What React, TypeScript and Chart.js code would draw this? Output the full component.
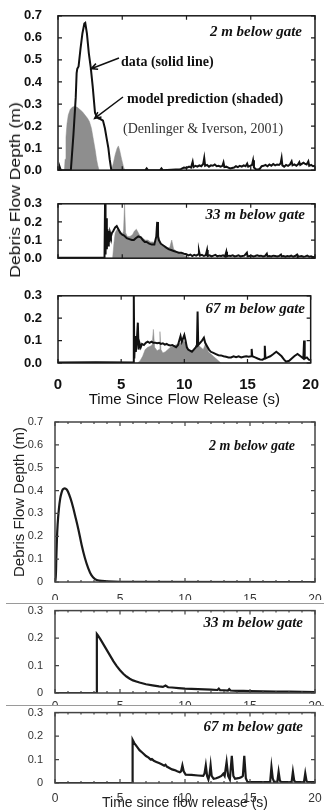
import React, { useEffect, useRef } from "react";
import { Chart, registerables } from "chart.js";

Chart.register(...registerables);

type Pair = [number, number];

// ---------------- tick labels ----------------
const TIME_TICKS = [0, 5, 10, 15, 20];
const DEPTH_TICKS_07 = [0, 0.1, 0.2, 0.3, 0.4, 0.5, 0.6, 0.7];
const DEPTH_TICKS_03 = [0, 0.1, 0.2, 0.3];

// ---------------- upper figure: flume data (solid line) ----------------
const obs2m: Pair[] = [
  [0, 0], [0.1, 0], [0.15, 0.012], [0.22, 0], [1.0, 0], [1.2, 0.16], [1.38, 0.33], [1.45, 0.44], [1.5, 0.46],
  [1.6, 0.47], [1.75, 0.55], [1.9, 0.62], [2.05, 0.665], [2.12, 0.668], [2.25, 0.62], [2.4, 0.53], [2.55, 0.465],
  [2.7, 0.38], [2.88, 0.26], [3.0, 0.245], [3.15, 0.235], [3.3, 0.232], [3.5, 0.225], [3.65, 0.19], [3.8, 0.14],
  [3.92, 0.1], [4.02, 0.05], [4.15, 0], [6.8, 0], [6.9, 0.008], [7.0, 0], [7.95, 0], [8.05, 0.008], [8.15, 0],
  [9.5, 0.004], [9.6, 0.006], [9.8, 0.012], [10.0, 0.01], [10.2, 0.016], [10.35, 0.012], [10.48, 0.038],
  [10.55, 0.014], [10.7, 0.02], [10.85, 0.016], [11.0, 0.022], [11.15, 0.018], [11.3, 0.028], [11.38, 0.055],
  [11.45, 0.02], [11.6, 0.024], [11.75, 0.016], [11.9, 0.022], [12.05, 0.02], [12.2, 0.026], [12.35, 0.018],
  [12.5, 0.02], [12.65, 0.016], [12.8, 0.02], [12.88, 0.035], [12.95, 0.014], [13.1, 0.016], [13.25, 0.012],
  [13.4, 0.008], [13.55, 0.01], [13.7, 0.012], [13.85, 0.018], [14.0, 0.014], [14.15, 0.02], [14.3, 0.016],
  [14.45, 0.022], [14.6, 0.018], [14.72, 0.03], [14.8, 0.016], [14.95, 0.02], [15.1, 0.024], [15.18, 0.045],
  [15.25, 0.012], [15.4, 0.004], [15.55, 0.003], [15.7, 0.006], [15.85, 0.018], [16.0, 0.02], [16.15, 0.024],
  [16.3, 0.018], [16.45, 0.026], [16.6, 0.02], [16.75, 0.028], [16.9, 0.022], [17.05, 0.026], [17.2, 0.024],
  [17.32, 0.03], [17.4, 0.055], [17.46, 0.022], [17.6, 0.016], [17.75, 0.024], [17.9, 0.02], [18.05, 0.026],
  [18.18, 0.04], [18.25, 0.022], [18.4, 0.026], [18.55, 0.02], [18.7, 0.028], [18.78, 0.036], [18.85, 0.024],
  [19.0, 0.03], [19.1, 0.034], [19.2, 0.03], [19.35, 0.026], [19.48, 0.04], [19.55, 0.02], [19.7, 0.024],
  [19.85, 0.018], [20, 0.02],
];

const obs33m: Pair[] = [
  [0, 0.002], [1.5, 0.003], [3.0, 0.002], [3.62, 0.002], [3.66, 0.3], [3.7, 0.02], [3.75, 0.22], [3.8, 0.05],
  [3.85, 0.16], [3.9, 0.07], [3.95, 0.15], [4.0, 0.09], [4.05, 0.14], [4.12, 0.12], [4.2, 0.14], [4.3, 0.15],
  [4.45, 0.17], [4.57, 0.177], [4.7, 0.16], [4.85, 0.14], [5.0, 0.13], [5.15, 0.125], [5.35, 0.11], [5.55, 0.105],
  [5.75, 0.1], [5.9, 0.1], [6.05, 0.11], [6.25, 0.12], [6.45, 0.115], [6.6, 0.1], [6.75, 0.09], [6.9, 0.09],
  [7.1, 0.08], [7.3, 0.075], [7.5, 0.075], [7.65, 0.12], [7.72, 0.2], [7.78, 0.12], [7.85, 0.1], [8.0, 0.08],
  [8.2, 0.07], [8.4, 0.06], [8.6, 0.05], [8.8, 0.045], [9.0, 0.04], [9.2, 0.035], [9.4, 0.03], [9.6, 0.03],
  [9.8, 0.025], [10.0, 0.022], [10.15, 0.015], [10.3, 0.02], [10.45, 0.012], [10.6, 0.018], [10.75, 0.014],
  [10.9, 0.02], [10.97, 0.04], [11.05, 0.014], [11.2, 0.018], [11.35, 0.012], [11.5, 0.016], [11.6, 0.045],
  [11.65, 0.012], [11.8, 0.016], [11.95, 0.01], [12.1, 0.014], [12.25, 0.018], [12.4, 0.01], [12.55, 0.014],
  [12.7, 0.012], [12.85, 0.016], [13.0, 0.01], [13.1, 0.035], [13.15, 0.01], [13.3, 0.014], [13.45, 0.012],
  [13.6, 0.016], [13.75, 0.01], [13.9, 0.012], [14.05, 0.016], [14.2, 0.01], [14.35, 0.012], [14.5, 0.014],
  [14.7, 0.03], [14.75, 0.01], [14.9, 0.012], [15.05, 0.014], [15.2, 0.01], [15.35, 0.012], [15.5, 0.016],
  [15.65, 0.012], [15.8, 0.014], [15.95, 0.01], [16.1, 0.012], [16.25, 0.025], [16.3, 0.01], [16.45, 0.012],
  [16.6, 0.01], [16.75, 0.014], [16.9, 0.012], [17.05, 0.01], [17.2, 0.012], [17.35, 0.02], [17.4, 0.01],
  [17.55, 0.012], [17.7, 0.008], [17.85, 0.012], [18.0, 0.01], [18.15, 0.014], [18.3, 0.008], [18.45, 0.012],
  [18.6, 0.02], [18.65, 0.008], [18.8, 0.01], [18.95, 0.012], [19.1, 0.008], [19.25, 0.01], [19.4, 0.014],
  [19.55, 0.008], [19.7, 0.01], [19.85, 0.006], [20, 0.008],
];

const obs67m: Pair[] = [
  [0, 0.002], [3, 0.003], [5.95, 0.002], [6.0, 0.3], [6.04, 0.02], [6.1, 0.12], [6.16, 0.05], [6.24, 0.1],
  [6.32, 0.18], [6.38, 0.06], [6.45, 0.09], [6.55, 0.07], [6.65, 0.085], [6.8, 0.08], [6.95, 0.09], [7.1, 0.095],
  [7.25, 0.09], [7.4, 0.095], [7.55, 0.09], [7.7, 0.09], [7.85, 0.088], [8.0, 0.09], [8.15, 0.085], [8.3, 0.088],
  [8.45, 0.082], [8.6, 0.085], [8.75, 0.08], [8.9, 0.078], [9.05, 0.08], [9.2, 0.075], [9.35, 0.07], [9.5, 0.08],
  [9.6, 0.1], [9.7, 0.12], [9.8, 0.095], [9.9, 0.11], [10.0, 0.125], [10.1, 0.1], [10.2, 0.07], [10.3, 0.06],
  [10.45, 0.055], [10.6, 0.05], [10.75, 0.06], [10.9, 0.07], [11.0, 0.08], [11.05, 0.23], [11.1, 0.08],
  [11.25, 0.09], [11.4, 0.1], [11.55, 0.113], [11.65, 0.09], [11.8, 0.075], [11.95, 0.06], [12.1, 0.05],
  [12.3, 0.045], [12.5, 0.04], [12.7, 0.035], [12.9, 0.034], [13.1, 0.03], [13.3, 0.028], [13.5, 0.025],
  [13.7, 0.025], [13.9, 0.03], [14.1, 0.026], [14.3, 0.03], [14.5, 0.025], [14.7, 0.028], [14.9, 0.03],
  [15.1, 0.028], [15.28, 0.03], [15.33, 0.063], [15.38, 0.03], [15.6, 0.025], [15.8, 0.02], [16.0, 0.016],
  [16.2, 0.015], [16.32, 0.02], [16.37, 0.077], [16.42, 0.02], [16.6, 0.025], [16.8, 0.03], [17.0, 0.038],
  [17.28, 0.05], [17.5, 0.04], [17.7, 0.03], [17.9, 0.015], [18.05, 0.006], [18.3, 0.01], [18.5, 0.02],
  [18.7, 0.03], [18.96, 0.04], [19.2, 0.03], [19.42, 0.02], [19.48, 0.1], [19.53, 0.02], [19.7, 0.025],
  [19.85, 0.015], [20, 0.013],
];

// ---------------- upper figure: model prediction (shaded) ----------------
const model2m: Pair[] = [
  [0, 0], [0.5, 0], [0.55, 0.05], [0.62, 0.15], [0.7, 0.21], [0.8, 0.25], [0.95, 0.275], [1.1, 0.285], [1.3, 0.29],
  [1.5, 0.285], [1.7, 0.275], [1.9, 0.265], [2.1, 0.25], [2.3, 0.235], [2.45, 0.22], [2.6, 0.19], [2.75, 0.14],
  [2.9, 0.09], [3.0, 0.05], [3.1, 0.02], [3.2, 0], [4.15, 0], [4.3, 0.03], [4.45, 0.07], [4.6, 0.1], [4.7, 0.11],
  [4.8, 0.09], [4.95, 0.05], [5.1, 0.015], [5.2, 0], [20, 0],
];

const model33m: Pair[] = [
  [0, 0], [4.25, 0], [4.35, 0.08], [4.45, 0.14], [4.6, 0.16], [4.8, 0.15], [5.0, 0.13], [5.1, 0.15], [5.18, 0.3],
  [5.26, 0.14], [5.4, 0.12], [5.6, 0.12], [5.8, 0.13], [5.95, 0.15], [6.1, 0.16], [6.25, 0.14], [6.4, 0.12],
  [6.6, 0.11], [6.8, 0.1], [7.0, 0.1], [7.2, 0.09], [7.4, 0.09], [7.6, 0.08], [7.7, 0.12], [7.78, 0.2], [7.9, 0.09],
  [8.1, 0.07], [8.3, 0.06], [8.5, 0.055], [8.7, 0.06], [8.85, 0.1], [9.0, 0.05], [9.2, 0.04], [9.4, 0.03],
  [9.6, 0.025], [9.8, 0.015], [10.0, 0.01], [10.3, 0], [20, 0],
];

const model67m: Pair[] = [
  [0, 0], [6.3, 0], [6.5, 0.01], [6.7, 0.03], [6.9, 0.06], [7.1, 0.07], [7.3, 0.075], [7.45, 0.08], [7.55, 0.15],
  [7.65, 0.07], [7.85, 0.055], [8.0, 0.06], [8.07, 0.14], [8.15, 0.06], [8.3, 0.045], [8.5, 0.05], [8.7, 0.06],
  [8.9, 0.07], [9.1, 0.075], [9.3, 0.08], [9.5, 0.085], [9.7, 0.09], [9.9, 0.1], [10.1, 0.09], [10.3, 0.06],
  [10.5, 0.05], [10.7, 0.06], [10.9, 0.07], [11.1, 0.08], [11.3, 0.07], [11.5, 0.06], [11.7, 0.09], [11.9, 0.05],
  [12.1, 0.04], [12.3, 0.03], [12.5, 0.02], [12.7, 0.01], [12.9, 0], [20, 0],
];

// ---------------- lower figure: new simulation ----------------
const sim2m: Pair[] = [
  [0, 0], [0.05, 0], [0.1, 0.1], [0.15, 0.19], [0.2, 0.25], [0.3, 0.32], [0.4, 0.365], [0.5, 0.39], [0.6, 0.405],
  [0.75, 0.41], [0.9, 0.405], [1.0, 0.395], [1.2, 0.365], [1.4, 0.325], [1.55, 0.29], [1.8, 0.23], [2.05, 0.162],
  [2.3, 0.105], [2.56, 0.06], [2.8, 0.03], [3.08, 0.013], [3.4, 0.006], [4.0, 0.003], [5.0, 0.001], [20, 0],
];

const sim33m: Pair[] = [
  [0, 0], [3.2, 0], [3.22, 0.215], [3.3, 0.21], [3.5, 0.195], [3.75, 0.175], [4.0, 0.155], [4.25, 0.135],
  [4.5, 0.115], [4.75, 0.098], [5.0, 0.083], [5.25, 0.07], [5.5, 0.06], [5.75, 0.052], [6.0, 0.046], [6.25, 0.042],
  [6.5, 0.038], [7.0, 0.032], [7.5, 0.028], [8.0, 0.024], [8.3, 0.022], [8.5, 0.027], [8.7, 0.021], [9.0, 0.02],
  [9.5, 0.018], [10.0, 0.016], [10.5, 0.015], [11.0, 0.014], [11.5, 0.013], [12.0, 0.012], [12.5, 0.011],
  [12.6, 0.016], [12.7, 0.01], [13.0, 0.01], [13.3, 0.009], [13.4, 0.014], [13.5, 0.009], [14.0, 0.008],
  [14.5, 0.008], [15.0, 0.007], [16.0, 0.006], [17.0, 0.005], [18.0, 0.005], [19.0, 0.004], [20.0, 0.003],
];

const sim67m: Pair[] = [
  [0, 0], [5.95, 0], [5.97, 0.184], [6.1, 0.17], [6.3, 0.155], [6.5, 0.14], [6.75, 0.128], [7.0, 0.115],
  [7.2, 0.108], [7.35, 0.1], [7.45, 0.102], [7.6, 0.095], [7.8, 0.09], [8.0, 0.085], [8.2, 0.08], [8.4, 0.074],
  [8.5, 0.078], [8.6, 0.07], [8.8, 0.064], [9.0, 0.058], [9.2, 0.055], [9.4, 0.05], [9.6, 0.046], [9.7, 0.05],
  [9.8, 0.075], [9.9, 0.05], [10.05, 0.036], [10.5, 0.035], [11.0, 0.032], [11.4, 0.03], [11.5, 0.04],
  [11.6, 0.075], [11.7, 0.03], [11.8, 0.015], [11.9, 0.04], [11.97, 0.075], [12.05, 0.03], [12.2, 0.018],
  [12.4, 0.02], [12.6, 0.025], [12.8, 0.03], [12.95, 0.04], [13.05, 0.03], [13.2, 0.089], [13.32, 0.03],
  [13.45, 0.015], [13.6, 0.116], [13.72, 0.03], [13.85, 0.018], [14.0, 0.02], [14.2, 0.022], [14.35, 0.025],
  [14.45, 0.03], [14.56, 0.116], [14.68, 0.02], [14.8, 0.005], [15.0, 0.004], [16.0, 0.004], [16.55, 0.004],
  [16.65, 0.068], [16.75, 0.02], [16.85, 0.005], [17.1, 0.005], [17.2, 0.048], [17.3, 0.01], [17.4, 0.004],
  [18.2, 0.004], [18.3, 0.048], [18.4, 0.01], [18.5, 0.004], [19.15, 0.004], [19.25, 0.041], [19.35, 0.008],
  [19.45, 0.004], [20, 0.004],
];

// ---------------- styling ----------------
const SANS = "'Liberation Sans', Arial, Helvetica, sans-serif";
const SERIF = "'Liberation Serif', 'Times New Roman', Times, serif";
const GREY_FILL = "#8e8e8e";

interface Series { pts: Pair[]; fill?: boolean; color: string; width: number; smooth?: boolean; }
interface Note { text: string; font: string; color: string; x: number; y: number; align: CanvasTextAlign; }
interface Arrow { from: [number, number]; to: Pair; }
interface PanelSpec {
  top: number; height: number; padTop: number;
  yMax: number; yTicks: number[]; yFmt: (v: number) => string;
  yFont: any; yColor: string; yPad: number; yWidth: number; yTitle?: any;
  showX: boolean; xFont?: any; xColor?: string; xPad?: number; xHeight: number; xTitle?: any;
  frameColor: string; frameWidth: number; minorX: boolean;
  series: Series[]; notes: Note[]; arrows?: Arrow[];
}

const fmt1 = (v: number) => Number(v).toFixed(1);
const fmtLow = (v: number) => (Number(v) === 0 ? "0" : Number(v).toFixed(1));

const TOP_Y_FONT = { family: SANS, size: 13, weight: "bold" as const };
const BOT_Y_FONT = { family: SANS, size: 11 };
const labelNote = (text: string, x: number, y: number, size: number): Note => ({
  text, x, y, align: "right", color: "#111", font: `italic bold ${size}px ${SERIF}`,
});

const PANELS: PanelSpec[] = [
  {
    top: 0, height: 186, padTop: 14, yMax: 0.7, yTicks: DEPTH_TICKS_07, yFmt: fmt1,
    yFont: TOP_Y_FONT, yColor: "#111", yPad: 8, yWidth: 58, showX: false, xHeight: 8,
    frameColor: "#1a1a1a", frameWidth: 1.5, minorX: false,
    series: [
      { pts: obs2m, color: "#111", width: 2 },
      { pts: model2m, fill: true, color: GREY_FILL, width: 0.5 },
    ],
    notes: [
      labelNote("2 m below gate", 302, 32, 15),
      { text: "data (solid line)", x: 121, y: 62, align: "left", color: "#111", font: `bold 14px ${SERIF}` },
      { text: "model prediction (shaded)", x: 127, y: 99, align: "left", color: "#111", font: `bold 14px ${SERIF}` },
      { text: "(Denlinger & Iverson, 2001)", x: 123, y: 129, align: "left", color: "#333", font: `14px ${SERIF}` },
    ],
    arrows: [
      { from: [119, 58], to: [2.58, 0.46] },
      { from: [123, 97], to: [2.85, 0.235] },
    ],
  },
  {
    top: 188, height: 86, padTop: 12, yMax: 0.3, yTicks: DEPTH_TICKS_03, yFmt: fmt1,
    yFont: TOP_Y_FONT, yColor: "#111", yPad: 8, yWidth: 58, showX: false, xHeight: 5,
    frameColor: "#1a1a1a", frameWidth: 1.5, minorX: false,
    series: [
      { pts: obs33m, color: "#111", width: 2 },
      { pts: model33m, fill: true, color: GREY_FILL, width: 0.5 },
    ],
    notes: [labelNote("33 m below gate", 305, 27, 15)],
  },
  {
    top: 280, height: 132, padTop: 13, yMax: 0.3, yTicks: DEPTH_TICKS_03, yFmt: fmt1,
    yFont: TOP_Y_FONT, yColor: "#111", yPad: 8, yWidth: 58, showX: true,
    xFont: { family: SANS, size: 15, weight: "bold" }, xColor: "#111", xPad: 5, xHeight: 49,
    xTitle: { display: true, text: "Time Since Flow Release (s)", color: "#111", font: { family: SANS, size: 15 }, padding: { top: 0, bottom: 3 } },
    frameColor: "#1a1a1a", frameWidth: 1.5, minorX: false,
    series: [
      { pts: obs67m, color: "#111", width: 2 },
      { pts: model67m, fill: true, color: GREY_FILL, width: 0.5 },
    ],
    notes: [labelNote("67 m below gate", 305, 29, 15)],
  },
  {
    top: 400, height: 200, padTop: 22, yMax: 0.7, yTicks: DEPTH_TICKS_07, yFmt: fmtLow,
    yFont: BOT_Y_FONT, yColor: "#333", yPad: 4, yWidth: 55,
    yTitle: { display: true, text: "Debris Flow Depth (m)", color: "#222", font: { family: SANS, size: 15 }, padding: { top: 11, bottom: 0 } },
    showX: true, xFont: { family: SANS, size: 12 }, xColor: "#333", xPad: 2, xHeight: 18,
    frameColor: "#444", frameWidth: 1.5, minorX: true,
    series: [{ pts: sim2m, color: "#1a1a1a", width: 2.2, smooth: true }],
    notes: [labelNote("2 m below gate", 295, 46, 14)],
  },
  {
    top: 600, height: 105, padTop: 8, yMax: 0.3, yTicks: DEPTH_TICKS_03, yFmt: fmtLow,
    yFont: BOT_Y_FONT, yColor: "#333", yPad: 4, yWidth: 55,
    showX: true, xFont: { family: SANS, size: 12 }, xColor: "#333", xPad: -2, xHeight: 12,
    frameColor: "#444", frameWidth: 1.5, minorX: true,
    series: [{ pts: sim33m, color: "#1a1a1a", width: 2.2 }],
    notes: [labelNote("33 m below gate", 303, 23, 15)],
  },
  {
    top: 702, height: 108, padTop: 8, yMax: 0.3, yTicks: DEPTH_TICKS_03, yFmt: fmtLow,
    yFont: BOT_Y_FONT, yColor: "#333", yPad: 4, yWidth: 55,
    showX: true, xFont: { family: SANS, size: 12 }, xColor: "#333", xPad: 0, xHeight: 27,
    xTitle: { display: true, text: "Time since flow release (s)", color: "#222", font: { family: SANS, size: 14, lineHeight: 1 }, padding: { top: 0, bottom: 0 } },
    frameColor: "#444", frameWidth: 1.5, minorX: true,
    series: [{ pts: sim67m, color: "#1a1a1a", width: 2.2 }],
    notes: [labelNote("67 m below gate", 303, 25, 15)],
  },
];

function decorPlugin(spec: PanelSpec) {
  return {
    id: "decor",
    afterDraw(chart: any) {
      const { ctx, chartArea: a } = chart;
      const xs = chart.scales.x;
      const ys = chart.scales.y;
      ctx.save();
      ctx.strokeStyle = spec.frameColor;
      ctx.lineWidth = 1.2;
      ctx.beginPath();
      const maj = 4;
      for (const v of TIME_TICKS) {
        const px = xs.getPixelForValue(v);
        ctx.moveTo(px, a.bottom); ctx.lineTo(px, a.bottom - maj);
        ctx.moveTo(px, a.top); ctx.lineTo(px, a.top + maj);
      }
      if (spec.minorX) {
        for (let v = 0; v <= 20; v += 1) {
          const px = xs.getPixelForValue(v);
          ctx.moveTo(px, a.bottom); ctx.lineTo(px, a.bottom - 2);
          ctx.moveTo(px, a.top); ctx.lineTo(px, a.top + 2);
        }
      }
      for (const v of spec.yTicks) {
        const py = ys.getPixelForValue(v);
        ctx.moveTo(a.left, py); ctx.lineTo(a.left + maj, py);
        ctx.moveTo(a.right, py); ctx.lineTo(a.right - maj, py);
      }
      ctx.stroke();
      ctx.lineWidth = spec.frameWidth;
      ctx.strokeRect(a.left, a.top, a.right - a.left, a.bottom - a.top);

      for (const n of spec.notes) {
        ctx.font = n.font;
        ctx.fillStyle = n.color;
        ctx.textAlign = n.align;
        ctx.textBaseline = "middle";
        ctx.fillText(n.text, n.x, n.y);
      }
      for (const ar of spec.arrows ?? []) {
        const tx = xs.getPixelForValue(ar.to[0]);
        const ty = ys.getPixelForValue(ar.to[1]);
        const [fx, fy] = ar.from;
        ctx.strokeStyle = "#111";
        ctx.lineWidth = 1.5;
        ctx.beginPath();
        ctx.moveTo(fx, fy); ctx.lineTo(tx, ty);
        const ang = Math.atan2(ty - fy, tx - fx);
        const L = 7, W = 0.45;
        ctx.moveTo(tx - L * Math.cos(ang - W), ty - L * Math.sin(ang - W));
        ctx.lineTo(tx, ty);
        ctx.lineTo(tx - L * Math.cos(ang + W), ty - L * Math.sin(ang + W));
        ctx.stroke();
      }
      ctx.restore();
    },
  };
}

function buildConfig(spec: PanelSpec): any {
  return {
    type: "line",
    data: {
      datasets: spec.series.map((s) => ({
        data: s.pts.map(([x, y]) => ({ x, y })),
        borderColor: s.color,
        backgroundColor: s.color,
        borderWidth: s.width,
        fill: s.fill ? "origin" : false,
        pointRadius: 0,
        tension: 0,
        cubicInterpolationMode: s.smooth ? "monotone" : "default",
        order: s.fill ? 2 : 1,
      })),
    },
    options: {
      responsive: false,
      maintainAspectRatio: false,
      animation: false,
      events: [],
      layout: { padding: { top: spec.padTop, right: 9, left: 0, bottom: 0 } },
      plugins: { legend: { display: false }, tooltip: { enabled: false }, title: { display: false } },
      scales: {
        x: {
          type: "linear", min: 0, max: 20,
          grid: { display: false }, border: { display: false },
          afterBuildTicks: (s: any) => { s.ticks = TIME_TICKS.map((v) => ({ value: v })); },
          ticks: {
            display: spec.showX, font: spec.xFont, color: spec.xColor, padding: spec.xPad ?? 0,
            maxRotation: 0, autoSkip: false, callback: (v: any) => String(v),
          },
          title: spec.xTitle ?? { display: false },
          afterFit: (s: any) => { s.height = spec.xHeight; },
        },
        y: {
          type: "linear", min: 0, max: spec.yMax,
          grid: { display: false }, border: { display: false },
          afterBuildTicks: (s: any) => { s.ticks = spec.yTicks.map((v) => ({ value: v })); },
          ticks: { font: spec.yFont, color: spec.yColor, padding: spec.yPad, autoSkip: false, callback: (v: any) => spec.yFmt(v) },
          title: spec.yTitle ?? { display: false },
          afterFit: (s: any) => { s.width = spec.yWidth; },
        },
      },
    },
    plugins: [decorPlugin(spec)],
  };
}

function Panel({ spec }: { spec: PanelSpec }) {
  const ref = useRef<HTMLCanvasElement>(null);
  useEffect(() => {
    const chart = new Chart(ref.current as HTMLCanvasElement, buildConfig(spec));
    return () => chart.destroy();
  }, [spec]);
  return (
    <canvas
      ref={ref}
      width={324}
      height={spec.height}
      style={{ position: "absolute", left: 0, top: spec.top, width: 324, height: spec.height }}
    />
  );
}

export default function App() {
  return (
    <div style={{ position: "absolute", left: 0, top: 0, width: 324, height: 810, background: "#fff", overflow: "hidden" }}>
      <div style={{ position: "absolute", left: 6, top: 603, width: 318, height: 1, background: "#9a9a9a" }} />
      <div style={{ position: "absolute", left: 6, top: 705, width: 318, height: 1, background: "#9a9a9a" }} />
      {PANELS.map((p, i) => (
        <Panel key={i} spec={p} />
      ))}
      <div
        style={{
          position: "absolute", left: 15, top: 190, whiteSpace: "nowrap",
          fontFamily: SANS, fontSize: 15, color: "#111", lineHeight: "18px",
          transform: "translate(-50%, -50%) rotate(-90deg) scaleX(1.17)",
        }}
      >
        Debris Flow Depth (m)
      </div>
    </div>
  );
}
